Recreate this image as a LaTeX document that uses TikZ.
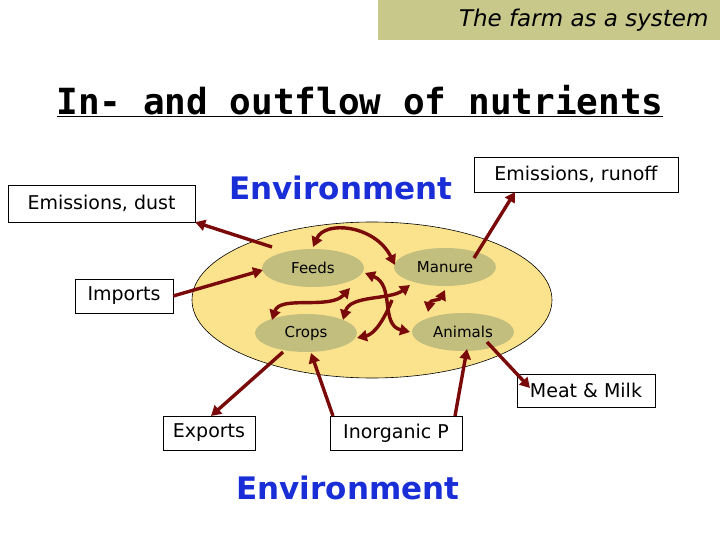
\documentclass[tikz,border=0pt]{standalone}
\usepackage{fontspec}
\setmainfont{DejaVu Sans}
\setmonofont{DejaVu Sans Mono}
\usetikzlibrary{arrows.meta,shapes.geometric}
\definecolor{arr}{HTML}{7A0A0A}
\definecolor{oval}{HTML}{FBE38E}
\definecolor{sub}{HTML}{C2BE7E}
\definecolor{bar}{HTML}{C8C88A}
\definecolor{envblue}{HTML}{1A2ED8}
\begin{document}
\begin{tikzpicture}[x=1pt,y=-1pt,
  box/.style={draw,fill=white,font=\fontsize{19}{21}\selectfont,inner sep=0pt},
  subel/.style={ellipse,fill=sub,minimum width=102pt,minimum height=38pt,font=\fontsize{15}{17}\selectfont},
  fl/.style={draw=arr,line width=3.4pt,-{Triangle[length=10pt,width=11pt]}},
  fl2/.style={draw=arr,line width=3.4pt,{Triangle[length=10pt,width=11pt]}-{Triangle[length=10pt,width=11pt]}}]
\useasboundingbox (0,0) rectangle (720,540);
\fill[white] (0,0) rectangle (720,540);
\node[fill=bar,anchor=north east,minimum width=342pt,minimum height=40pt,inner sep=0pt] (bar) at (720,0) {};
\node[anchor=east,font=\fontsize{23}{25}\selectfont\itshape] (bt) at (712,20) {The farm as a system};
\node[font=\fontsize{36}{40}\selectfont\ttfamily\bfseries,text=black] (title) at (360,101) {\underline{In- and outflow of nutrients}};
\fill[oval,draw=black,line width=0.6pt] (372,300) ellipse [x radius=180, y radius=78];
\node[subel] (feeds) at (313,268) {Feeds};
\node[subel] (manure) at (445,267) {Manure};
\node[subel] (crops) at (306,333) {Crops};
\node[subel] (animals) at (463,332) {Animals};
\node[font=\fontsize{31}{34}\selectfont\bfseries,text=envblue] (env1) at (341,188) {Environment};
\node[font=\fontsize{31}{34}\selectfont\bfseries,text=envblue] (env2) at (348,488) {Environment};
\node[box,minimum width=187pt,minimum height=37pt] (dust) at (101.5,203.5) {Emissions, dust};
\node[box,minimum width=98pt,minimum height=34pt] (imports) at (124,296) {Imports};
\node[box,minimum width=204pt,minimum height=35pt] (runoff) at (576,174.5) {Emissions, runoff};
\node[box,minimum width=138pt,minimum height=33pt] (meat) at (586,390.5) {Meat \& Milk};
\node[box,minimum width=92pt,minimum height=34pt] (exports) at (209,433) {Exports};
\node[box,minimum width=132pt,minimum height=34pt] (inorg) at (396,433) {Inorganic P};
\coordinate (c1) at (272,247);
\draw[fl] (c1) -- (dust.south east);
\draw[fl] (imports.east) -- (263,270);
\draw[fl] (474,258) -- (515,192);
\draw[fl] (487,342) -- (530,388);
\draw[fl] (283,352) -- (211,416);
\draw[fl] (333,416) -- (311,353);
\draw[fl] (455,416) -- (467,349);
\draw[fl2] (313,247) .. controls (325,220) and (375,225) .. (395,265);
\draw[fl2] (365,273) .. controls (395,285) and (380,325) .. (410,332);
\draw[fl2] (350,288) .. controls (330,310) and (280,295) .. (272,320);
\draw[fl2] (410,285) .. controls (390,300) and (350,295) .. (343,320);
\draw[fl] (392,300) .. controls (380,330) and (370,335) .. (357,338);
\draw[fl2] (445,290) .. controls (440,300) and (430,300) .. (428,312);
\end{tikzpicture}
\end{document}
